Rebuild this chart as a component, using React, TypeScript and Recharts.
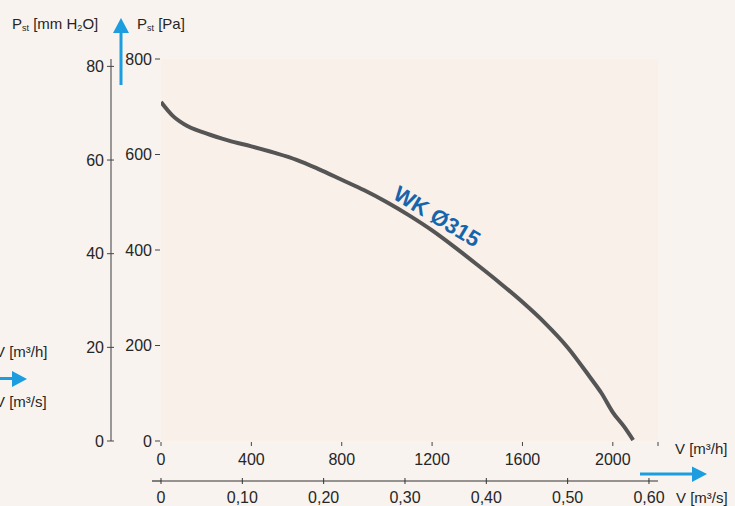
import React from 'react';
import { LineChart, Line, XAxis, YAxis, ReferenceArea, ReferenceDot } from 'recharts';

// fan curve WK Ø315
const flowM3h = [0, 50, 100, 200, 300, 400, 500, 600, 700, 800, 900, 1000, 1100, 1200, 1300, 1400, 1500, 1600, 1700, 1800, 1900, 1950, 2000, 2050, 2090];
const pressurePa = [710, 682, 664, 644, 629, 617, 604, 589, 569, 547, 525, 500, 472, 441, 406, 369, 331, 291, 247, 196, 133, 100, 60, 30, 2];

const paTicks = [0, 200, 400, 600, 800];
const mmTicks = [0, 20, 40, 60, 80];
const flowTicks = [0, 400, 800, 1200, 1600, 2000, 2200];
const flowSecTicks = [0, 0.1, 0.2, 0.3, 0.4, 0.5, 0.6];
const curveName = 'WK Ø315';

const data = flowM3h.map((flow, i) => ({ flow, pa: pressurePa[i] }));
// m3/s axis shares the m3/h scale
const flowSecTicksAsH = flowSecTicks.map((v) => v * 3600);

const FONT = '"Liberation Sans", Arial, sans-serif';
const TEXT = '#262626';
const BLUE = '#1b9ddf';

// axis ids: Pa axis sits next to the plot, mm H2O axis further out
const PA = 'a-pa';
const MM = 'b-mm';

const PaTick = (props: any) => {
  const { x, y, payload } = props;
  return (
    <g>
      <line x1={x - 6} x2={x - 1} y1={y} y2={y} stroke="#444" strokeWidth={1} />
      <text x={x - 9} y={y} dy="0.36em" textAnchor="end" fill={TEXT} fontSize={16} fontFamily={FONT}>
        {payload.value}
      </text>
    </g>
  );
};

const MmTick = (props: any) => {
  const { x, y, payload } = props;
  return (
    <g>
      <line x1={x - 4} x2={x + 3} y1={y} y2={y} stroke="#444" strokeWidth={1} />
      <text x={x - 7} y={y} dy="0.36em" textAnchor="end" fill={TEXT} fontSize={16} fontFamily={FONT}>
        {payload.value}
      </text>
    </g>
  );
};

const FlowTick = (props: any) => {
  const { x, y, payload } = props;
  return (
    <g>
      <line x1={x} x2={x} y1={y + 1} y2={y + 5} stroke="#444" strokeWidth={1} />
      {payload.value !== 2200 && (
        <text x={x} y={y + 24} textAnchor="middle" fill={TEXT} fontSize={16} fontFamily={FONT}>
          {payload.value}
        </text>
      )}
    </g>
  );
};

const FlowSecTick = (props: any) => {
  const { x, y, payload } = props;
  const v = payload.value / 3600;
  const label = v === 0 ? '0' : v.toFixed(2).replace('.', ',');
  return (
    <g>
      {v === 0 && <line x1={x - 9} x2={x} y1={y} y2={y} stroke="#333" strokeWidth={1.2} />}
      <line x1={x} x2={x} y1={y - 3} y2={y + 3} stroke="#333" strokeWidth={1} />
      <text x={x} y={y + 22} textAnchor="middle" fill={TEXT} fontSize={16} fontFamily={FONT}>
        {label}
      </text>
    </g>
  );
};

const CurveLabel = (props: any) => {
  const { x, y } = props.viewBox;
  return (
    <text
      x={x}
      y={y}
      transform={`rotate(31 ${x} ${y})`}
      textAnchor="middle"
      dominantBaseline="central"
      fill="#1565ab"
      fontSize={22}
      fontWeight="bold"
      fontFamily={FONT}
    >
      {curveName}
    </text>
  );
};

export default function App() {
  return (
    <div style={{ position: 'absolute', left: 0, top: 0, width: 735, height: 506, background: '#f8f3ef', overflow: 'hidden' }}>
      <LineChart width={735} height={506} data={data} margin={{ top: 59, right: 77, bottom: 0, left: 0 }}>
        <XAxis
          xAxisId="h"
          dataKey="flow"
          type="number"
          domain={[0, 2200]}
          ticks={flowTicks}
          allowDataOverflow
          height={40}
          axisLine={false}
          tickLine={false}
          tickSize={0}
          tickMargin={0}
          tick={<FlowTick />}
        />
        <XAxis
          xAxisId="s"
          dataKey="flow"
          type="number"
          domain={[0, 2200]}
          ticks={flowSecTicksAsH}
          allowDataOverflow
          height={25}
          axisLine={{ stroke: '#333', strokeWidth: 1.2 }}
          tickLine={false}
          tickSize={0}
          tickMargin={0}
          tick={<FlowSecTick />}
        />
        <YAxis
          yAxisId={PA}
          type="number"
          domain={[0, 800]}
          ticks={paTicks}
          allowDataOverflow
          width={50}
          axisLine={false}
          tickLine={false}
          tickSize={0}
          tickMargin={0}
          tick={<PaTick />}
        />
        <YAxis
          yAxisId={MM}
          type="number"
          domain={[0, 800 / 9.80665]}
          ticks={mmTicks}
          allowDataOverflow
          width={111}
          axisLine={{ stroke: '#666', strokeWidth: 1.3 }}
          tickLine={false}
          tickSize={0}
          tickMargin={0}
          tick={<MmTick />}
        />
        <ReferenceArea xAxisId="h" yAxisId={PA} x1={0} x2={2200} y1={0} y2={800} fill="#faf0ea" fillOpacity={1} stroke="none" />
        <Line
          xAxisId="h"
          yAxisId={PA}
          dataKey="pa"
          type="monotone"
          stroke="#555555"
          strokeWidth={4}
          dot={false}
          activeDot={false}
          isAnimationActive={false}
        />
        <ReferenceDot xAxisId="h" yAxisId={PA} x={1222} y={470} r={0} fill="none" stroke="none" label={<CurveLabel />} />
      </LineChart>

      <svg width={735} height={506} style={{ position: 'absolute', left: 0, top: 0, pointerEvents: 'none' }} fontFamily={FONT}>
        <text x={12} y={29} fontSize={15} fill={TEXT}>
          P<tspan fontSize={9} dy={2}>st</tspan>
          <tspan dy={-2}> [mm H</tspan>
          <tspan fontSize={9} dy={2}>2</tspan>
          <tspan dy={-2}>O]</tspan>
        </text>
        <text x={137} y={29} fontSize={15} fill={TEXT}>
          P<tspan fontSize={9} dy={2}>st</tspan>
          <tspan dy={-2}> [Pa]</tspan>
        </text>

        <rect x={119.5} y={32} width={3} height={53} fill={BLUE} />
        <polygon points="113,33 129,33 121,18" fill={BLUE} />

        <text x={-5} y={357} fontSize={15} fill={TEXT}>V [m³/h]</text>
        <rect x={0} y={377} width={13} height={3} fill={BLUE} />
        <polygon points="12,371 12,387 27,379" fill={BLUE} />
        <text x={-5} y={407} fontSize={15} fill={TEXT}>V [m³/s]</text>

        <text x={675} y={454} fontSize={15} fill={TEXT}>V [m³/h]</text>
        <rect x={640} y={472.5} width={53} height={3} fill={BLUE} />
        <polygon points="692,466.5 692,482 707,474" fill={BLUE} />
        <text x={676} y={503} fontSize={15} fill={TEXT}>V [m³/s]</text>
      </svg>
    </div>
  );
}
